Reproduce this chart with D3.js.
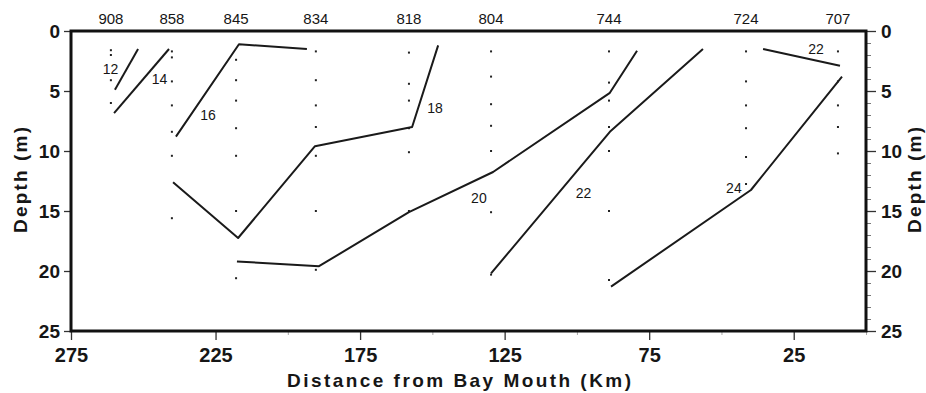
<!DOCTYPE html>
<html>
<head>
<meta charset="utf-8">
<script src="https://cdn.jsdelivr.net/npm/d3@7"></script>
<style>
  body { margin: 0; background: #fff; }
  text { font-family: "Liberation Sans", Arial, sans-serif; fill: #161616; }
  .axis text { font-weight: bold; }
</style>
</head>
<body>
<svg id="chart" width="926" height="393"></svg>
<script>
// stations along the section (name, distance from mouth in km)
const stations = ['908', '858', '845', '834', '818', '804', '744', '724', '707'];
const stationKm = [261.2, 240.1, 217.9, 190.3, 158.1, 129.7, 88.9, 41.5, 9.7];

// sample depths (m) at each station
const sampleDepths = [
  [1.6, 2.0, 4.1, 6.0],
  [1.7, 2.2, 4.2, 6.2, 8.4, 10.4, 15.6],
  [2.4, 4.1, 5.8, 8.1, 10.4, 15.0, 20.6],
  [1.7, 4.1, 6.2, 8.0, 10.4, 15.0, 19.9],
  [1.8, 4.4, 5.8, 8.1, 10.1, 15.0],
  [1.7, 3.8, 6.1, 7.9, 10.0, 15.1, 20.3],
  [1.7, 4.3, 5.8, 8.0, 10.0, 15.0, 20.75],
  [1.7, 4.2, 6.2, 8.1, 10.5, 12.75],
  [1.7, 4.2, 6.2, 8.0, 10.2]
];

// isotherms, [km, depth]
const iso12 = [[259.8, 4.9], [251.8, 1.5]];
const iso14 = [[260.1, 6.85], [241.1, 1.5]];
const iso16 = [[238.7, 8.8], [216.9, 1.1], [193.4, 1.5]];
const iso18 = [[239.7, 12.6], [217.2, 17.25], [190.6, 9.6], [157.0, 8.0], [148.0, 1.2]];
const iso20 = [[217.6, 19.2], [189.2, 19.6], [158.1, 15.1], [129.0, 11.75], [88.6, 5.15], [79.2, 1.65]];
const iso22a = [[129.7, 20.2], [88.6, 8.4], [56.4, 1.5]];
const iso22b = [[35.6, 1.5], [9.0, 2.9]];
const iso24 = [[88.2, 21.3], [39.8, 13.25], [8.3, 3.8]];

// contour labels
const labelText = ['12', '14', '16', '18', '20', '22', '22', '24'];
const labelKm = [261.3, 244.4, 227.6, 149.1, 133.9, 97.7, 17.3, 45.7];
const labelDepth = [3.2, 4.0, 7.0, 6.4, 13.9, 13.5, 1.5, 13.1];

const xTicks = [275, 225, 175, 125, 75, 25];
const xMinorTicks = [200, 150, 100, 50, 0];
const yTicks = [0, 5, 10, 15, 20, 25];

const svg = d3.select('#chart');
const width = +svg.attr('width');
const height = +svg.attr('height');
const margin = {top: 31, right: 60, bottom: 62, left: 71};
const innerWidth = width - margin.left - margin.right;
const innerHeight = height - margin.top - margin.bottom;

const g = svg.append('g')
    .attr('transform', `translate(${margin.left}, ${margin.top})`);

const xScale = d3.scaleLinear().domain([275, 0]).range([0, innerWidth]);
const yScale = d3.scaleLinear().domain([0, 25]).range([0, innerHeight]);

// axes
const leftG = g.append('g').attr('class', 'axis')
    .call(d3.axisLeft(yScale).tickValues(yTicks).tickSize(7).tickPadding(4));
leftG.selectAll('text').style('font-size', '19px');

const rightMinor = g.append('g')
    .attr('transform', `translate(${innerWidth}, 0)`)
    .call(d3.axisRight(yScale).tickValues(d3.range(0, 26).filter(d => d % 5))
        .tickSize(5).tickFormat(''));
rightMinor.select('.domain').remove();
rightMinor.selectAll('line').attr('stroke', '#777');

const rightG = g.append('g').attr('class', 'axis')
    .attr('transform', `translate(${innerWidth}, 0)`)
    .call(d3.axisRight(yScale).tickValues(yTicks).tickSize(10).tickPadding(5));
rightG.selectAll('text').style('font-size', '19px');

const bottomMinor = g.append('g')
    .attr('transform', `translate(0, ${innerHeight})`)
    .call(d3.axisBottom(xScale).tickValues(xMinorTicks).tickSize(4).tickFormat(''));
bottomMinor.select('.domain').remove();
bottomMinor.selectAll('line').attr('stroke', '#aaa');

const bottomG = g.append('g').attr('class', 'axis')
    .attr('transform', `translate(0, ${innerHeight})`)
    .call(d3.axisBottom(xScale).tickValues(xTicks).tickSize(9).tickPadding(8));
bottomG.selectAll('text').style('font-size', '20px');

g.selectAll('.axis .domain').remove();
g.selectAll('.axis line').attr('stroke', '#333').attr('stroke-width', 1.3);

// sample dots
const dots = [];
stationKm.forEach((km, i) => sampleDepths[i].forEach(d => dots.push([km, d])));
g.selectAll('rect.dot').data(dots)
  .enter().append('rect')
    .attr('class', 'dot')
    .attr('x', d => xScale(d[0]) - 1)
    .attr('y', d => yScale(d[1]) - 1)
    .attr('width', 2)
    .attr('height', 2)
    .attr('fill', '#222');

// isotherm lines
const line = d3.line().x(d => xScale(d[0])).y(d => yScale(d[1]));
g.selectAll('path.iso')
    .data([iso12, iso14, iso16, iso18, iso20, iso22a, iso22b, iso24])
  .enter().append('path')
    .attr('class', 'iso')
    .attr('d', line)
    .attr('fill', 'none')
    .attr('stroke', '#1a1a1a')
    .attr('stroke-width', 2)
    .attr('stroke-linejoin', 'round');

g.selectAll('text.isolabel').data(labelText)
  .enter().append('text')
    .attr('class', 'isolabel')
    .attr('x', (d, i) => xScale(labelKm[i]))
    .attr('y', (d, i) => yScale(labelDepth[i]))
    .attr('dy', '0.36em')
    .attr('text-anchor', 'middle')
    .style('font-size', '14px')
    .text(d => d);

// station names
g.selectAll('text.station').data(stations)
  .enter().append('text')
    .attr('class', 'station')
    .attr('x', (d, i) => xScale(stationKm[i]))
    .attr('y', -7)
    .attr('text-anchor', 'middle')
    .style('font-size', '15px')
    .text(d => d);

// frame
g.append('rect')
    .attr('width', innerWidth)
    .attr('height', innerHeight)
    .attr('fill', 'none')
    .attr('stroke', '#111')
    .attr('stroke-width', 3);

// axis titles
svg.append('text')
    .attr('x', 459)
    .attr('y', 387)
    .attr('text-anchor', 'middle')
    .attr('textLength', 344)
    .attr('lengthAdjust', 'spacing')
    .style('font-size', '19px')
    .style('font-weight', 'bold')
    .text('Distance from Bay Mouth (Km)');

[27, 921].forEach(xp => {
  svg.append('text')
      .attr('transform', `translate(${xp}, 180) rotate(-90)`)
      .attr('text-anchor', 'middle')
      .attr('textLength', 106)
      .attr('lengthAdjust', 'spacing')
      .style('font-size', '19px')
      .style('font-weight', 'bold')
      .text('Depth (m)');
});
</script>
</body>
</html>
